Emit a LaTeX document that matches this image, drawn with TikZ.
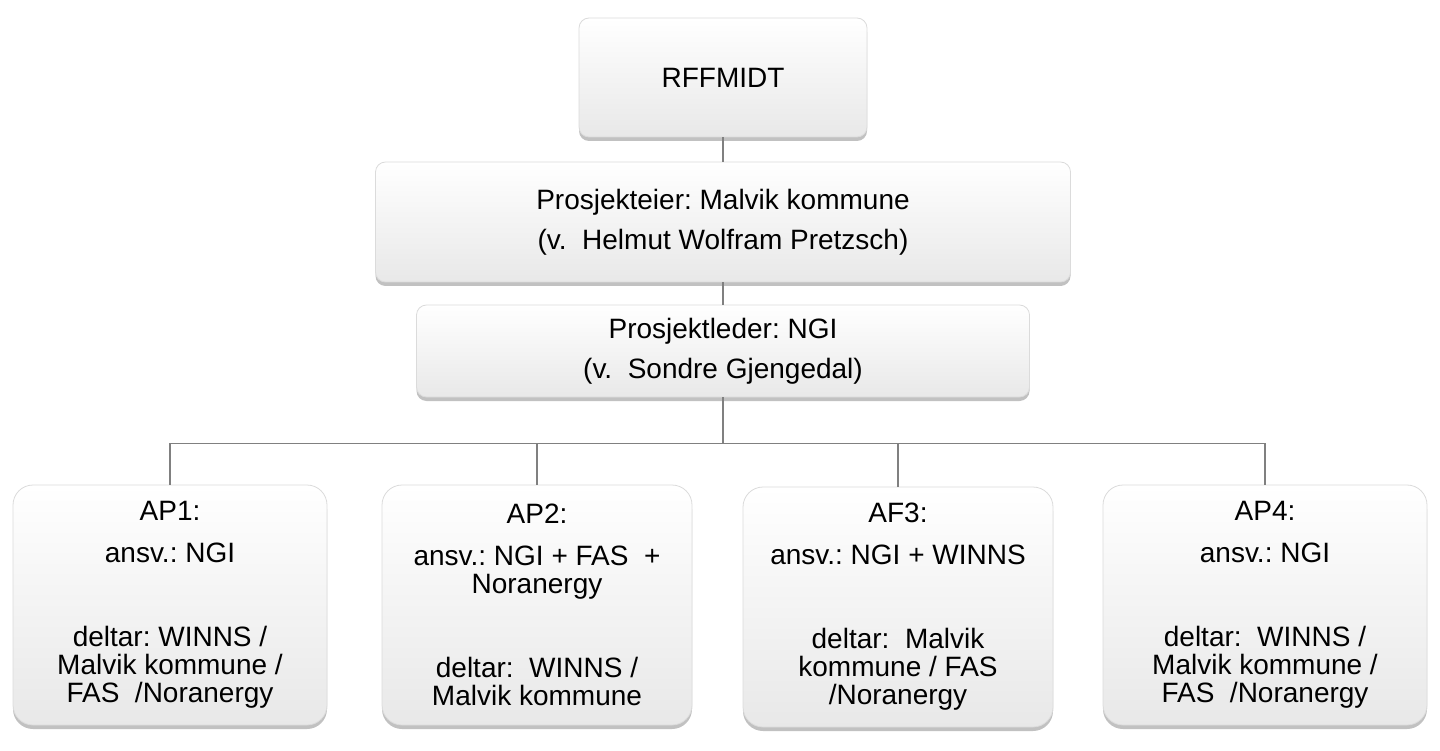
\documentclass[tikz,border=0pt]{standalone}
\usepackage{fontspec}
\setmainfont{Liberation Sans}
\usetikzlibrary{shadows}
\frenchspacing

\tikzset{
	orgbox/.style={rectangle, rounded corners=10pt, draw=black!14, line width=0.8pt,
		top color=white, middle color=white, bottom color=black!9,
		drop shadow={shadow xshift=0pt, shadow yshift=-4pt, opacity=0.35, fill=black!70},
		align=center, inner sep=0pt, font=\fontsize{28}{40}\selectfont},
	apbox/.style={orgbox, rounded corners=20pt, minimum height=240pt,
		font=\fontsize{28}{28}\selectfont},
	link/.style={draw=black!50, line width=1.5pt}
}

\begin{document}
\begin{tikzpicture}[x=1pt,y=-1pt]
		\useasboundingbox (0,0) rectangle (1440,751);
		\node (rff) at (723,77.5) [orgbox, minimum width=288pt, minimum height=119pt] {RFFMIDT};
		\node (eier) at (723,222) [orgbox, minimum width=695pt, minimum height=120pt] {Prosjekteier: Malvik kommune\\(v.\ \ Helmut Wolfram Pretzsch)};
		\node (leder) at (723,351) [orgbox, minimum width=613pt, minimum height=92pt] {Prosjektleder: NGI\\(v.\ \ Sondre Gjengedal)};
		
		\node (ap1) at (170,605) [apbox, minimum width=314pt] {AP1:\\[14pt]ansv.: NGI\\[56pt]deltar: WINNS /\\Malvik kommune /\\FAS\ \ /Noranergy};
		\node (ap2) at (537,605) [apbox, minimum width=310pt] {AP2:\\[14pt]ansv.: NGI + FAS\ \ +\\Noranergy\\[56pt]deltar:\ \ WINNS /\\Malvik kommune};
		\node (af3) at (898,607) [apbox, minimum width=310pt] {AF3:\\[14pt]ansv.: NGI + WINNS\\[56pt]deltar:\ \ Malvik\\kommune / FAS\\/Noranergy};
		\node (ap4) at (1265,605) [apbox, minimum width=324pt] {AP4:\\[14pt]ansv.: NGI\\[56pt]deltar:\ \ WINNS /\\Malvik kommune /\\FAS\ \ /Noranergy};
		
		\draw[link] (rff.south)--(eier.north);
		\draw[link] (eier.south)--(leder.north);
		\foreach \n in {ap1,ap2,af3,ap4}
			\draw[link] (leder.south)--++(0,46) -| (\n.north);
	\end{tikzpicture}
\end{document}
